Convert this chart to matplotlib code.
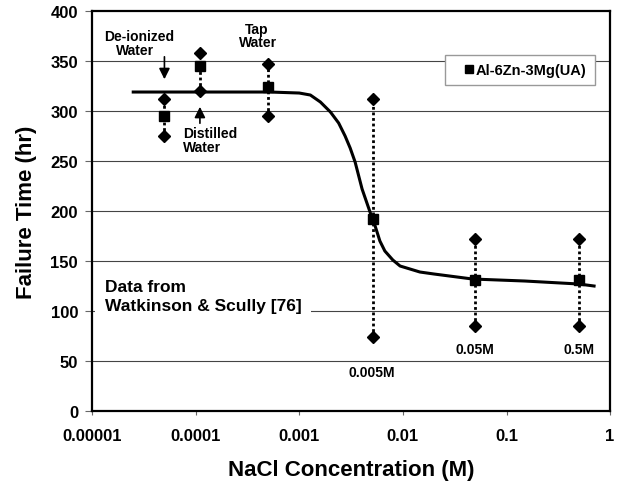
import matplotlib.pyplot as plt
from matplotlib.ticker import FixedLocator, NullLocator

plt.rcParams['font.family'] = ['Liberation Sans', 'DejaVu Sans']
plt.rcParams['font.weight'] = 'bold'

# measured points: NaCl concentration (M) and failure time (hr)
conc = [5e-5, 1.1e-4, 5e-4, 5.2e-3, 0.05, 0.5]
t_mean = [295, 345, 324, 192, 131, 131]
t_high = [312, 358, 347, 312, 172, 172]
t_low = [275, 320, 295, 74, 85, 85]

# trend curve drawn through the data
curve_x = [2.5e-5, 1.1e-4, 5.2e-4, 1.0e-3, 1.28e-3, 1.6e-3, 2.0e-3, 2.4e-3, 2.77e-3,
           3.1e-3, 3.46e-3, 4.04e-3, 4.82e-3, 5.4e-3, 6.0e-3, 6.7e-3, 8.0e-3, 9.4e-3,
           0.0146, 0.02, 0.047, 0.15, 0.5, 0.7]
curve_y = [319, 319, 319, 318, 316, 309, 299, 288, 275,
           263, 249, 222, 199, 185, 170, 160, 151, 145,
           139, 137, 132, 130, 127, 125]

xticks = [1e-5, 1e-4, 1e-3, 1e-2, 0.1, 1]
xtick_labels = ['0.00001', '0.0001', '0.001', '0.01', '0.1', '1']
yticks = [0, 50, 100, 150, 200, 250, 300, 350, 400]

fig = plt.figure(figsize=(6.25, 4.85), dpi=100)
ax = fig.add_axes([0.1472, 0.1505, 0.829, 0.8247])

ax.set_xscale('log')
ax.set_xlim(1e-5, 1)
ax.set_ylim(0, 400)

for y in yticks[1:-1]:
    ax.axhline(y, color='#444444', linewidth=0.8, zorder=0)

# scatter range bars
for x, lo, hi in zip(conc, t_low, t_high):
    ax.plot([x, x], [lo, hi], color='black', linestyle=(0, (1, 1)), linewidth=2, zorder=2)
ax.plot(conc, t_high, 'D', color='black', markersize=6, zorder=3)
ax.plot(conc, t_low, 'D', color='black', markersize=6, zorder=3)

ax.plot(curve_x, curve_y, color='black', linewidth=2.2, zorder=4)
ax.plot(conc, t_mean, 's', color='black', markersize=7, zorder=5, label='Al-6Zn-3Mg(UA)')

ax.xaxis.set_major_locator(FixedLocator(xticks))
ax.xaxis.set_minor_locator(NullLocator())
ax.set_xticklabels(xtick_labels)
ax.set_yticks(yticks)
ax.tick_params(axis='both', direction='out', width=0.8, labelsize=12, color='#666666')
ax.tick_params(axis='x', length=3, pad=9)
ax.tick_params(axis='y', length=5, pad=5)
for s in ax.spines.values():
    s.set_linewidth(1.6)

ax.set_xlabel('NaCl Concentration (M)', fontsize=16, fontweight='bold', labelpad=12)
ax.set_ylabel('Failure Time (hr)', fontsize=16, fontweight='bold', labelpad=10)

leg = ax.legend(loc='upper right', bbox_to_anchor=(0.97, 0.89), fancybox=False,
                edgecolor='#999999', fontsize=10.5, handlelength=2.2, handletextpad=-0.62,
                markerscale=0.8, borderpad=0.55, borderaxespad=0, framealpha=1)
leg.get_frame().set_linewidth(1)
for t in leg.get_texts():
    t.set_fontweight('bold')

# annotations
ax.text(2.83e-5, 375, 'De-ionized', fontsize=10, ha='center', va='center')
ax.text(2.6e-5, 361, 'Water', fontsize=10, ha='center', va='center')
ax.annotate('', xy=(5e-5, 329), xytext=(5e-5, 357),
            arrowprops=dict(arrowstyle='-|>', color='black', linewidth=1.2, mutation_scale=16))
ax.text(7.5e-5, 271, 'Distilled\nWater', fontsize=10, ha='left', va='center', linespacing=0.95)
ax.annotate('', xy=(1.1e-4, 307), xytext=(1.1e-4, 285),
            arrowprops=dict(arrowstyle='-|>', color='black', linewidth=1.2, mutation_scale=16))
ax.text(3.86e-4, 382, 'Tap', fontsize=10, ha='center', va='center')
ax.text(4.03e-4, 369, 'Water', fontsize=10, ha='center', va='center')

ax.text(1.33e-5, 115, 'Data from\nWatkinson & Scully [76]', fontsize=12.5, ha='left', va='center',
        linespacing=1.3, zorder=6,
        bbox=dict(facecolor='white', edgecolor='none', pad=7))

ax.text(5.03e-3, 39, '0.005M', fontsize=10, ha='center', va='center')
ax.text(0.05, 62, '0.05M', fontsize=10, ha='center', va='center')
ax.text(0.5, 62, '0.5M', fontsize=10, ha='center', va='center')

fig.savefig('out.png', dpi=100)
